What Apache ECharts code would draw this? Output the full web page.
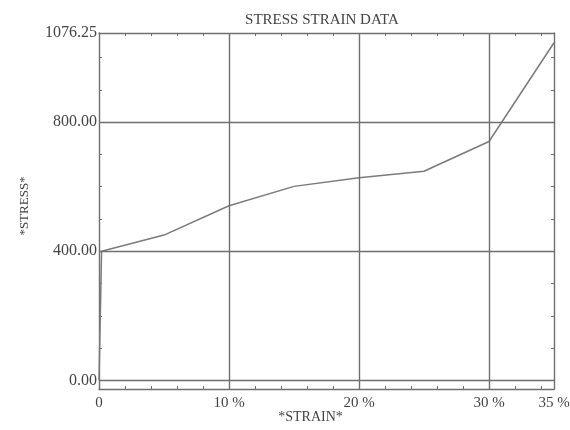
<!DOCTYPE html>
<html>
<head>
<meta charset="utf-8">
<script src="https://cdn.jsdelivr.net/npm/echarts@6/dist/echarts.min.js"></script>
<style>html,body{margin:0;padding:0;background:#fff}#c{width:570px;height:430px}</style>
</head>
<body>
<div id="c"></div>
<script>
const strain = [0, 0.2, 5, 10, 15, 20, 25, 30, 35];
const stress = [0, 400, 450, 541, 601, 628, 648, 740, 1046];
const xLabelValues = [0, 10, 20, 30, 35];
const yLabelValues = [0, 400, 800, 1076.25];
const xTickValues = [2, 4, 6, 8, 12, 14, 16, 18, 22, 24, 26, 28, 32, 34];
const yTickValues = [100, 200, 300, 500, 600, 700, 900, 1000];
const xGridValues = [10, 20, 30];
const yGridValues = [0, 400, 800];

const FONT = '"Liberation Serif", "DejaVu Serif", serif';
const LINE = '#6f6f6f';

const chart = echarts.init(document.getElementById('c'));
const frameLine = { show: true, onZero: false, lineStyle: { color: LINE, width: 1.4 } };
const tickStyle = { show: true, inside: true, length: 3, customValues: null, lineStyle: { color: LINE, width: 1 } };

chart.setOption({
  backgroundColor: '#fff',
  animation: false,
  title: {
    text: 'STRESS STRAIN DATA',
    left: 317, top: 8, textAlign: 'center',
    textStyle: { fontFamily: FONT, fontSize: 15, fontWeight: 'normal', color: '#444' }
  },
  grid: { left: 99, right: 16, top: 33, bottom: 41, containLabel: false, outerBoundsMode: 'none' },
  xAxis: [
    {
      type: 'value', position: 'bottom', min: 0, max: 35,
      axisLine: frameLine,
      axisTick: Object.assign({}, tickStyle, { customValues: xTickValues }),
      axisLabel: {
        customValues: xLabelValues, margin: 7,
        fontFamily: FONT, fontSize: 15, color: '#444',
        formatter: v => v === 0 ? '0' : v + ' %'
      },
      splitLine: { show: false },
      name: '*STRAIN*', nameLocation: 'middle', nameGap: 21, nameMoveOverlap: false,
      nameTextStyle: { fontFamily: FONT, fontSize: 14, color: '#444', padding: [0, 32, 0, 0] }
    },
    {
      type: 'value', position: 'top', min: 0, max: 35,
      axisLine: frameLine,
      axisTick: Object.assign({}, tickStyle, { customValues: xTickValues }),
      axisLabel: { show: false },
      splitLine: { show: false }
    }
  ],
  yAxis: [
    {
      type: 'value', position: 'left', min: -26.9, max: 1076.25,
      axisLine: frameLine,
      axisTick: Object.assign({}, tickStyle, { customValues: yTickValues }),
      axisLabel: {
        customValues: yLabelValues, margin: 2,
        fontFamily: FONT, fontSize: 16, color: '#444',
        formatter: v => v.toFixed(2)
      },
      splitLine: { show: false },
      name: '*STRESS*', nameLocation: 'middle', nameGap: 68, nameRotate: 90, nameMoveOverlap: false,
      nameTextStyle: { fontFamily: FONT, fontSize: 13, color: '#444', padding: [0, 0, 0, 10] }
    },
    {
      type: 'value', position: 'right', min: -26.9, max: 1076.25,
      axisLine: frameLine,
      axisTick: Object.assign({}, tickStyle, { customValues: yTickValues }),
      axisLabel: { show: false },
      splitLine: { show: false }
    }
  ],
  series: [{
    type: 'line',
    xAxisIndex: 0, yAxisIndex: 0,
    data: strain.map((x, i) => [x, stress[i]]),
    showSymbol: false, symbol: 'none',
    lineStyle: { color: '#7a7a7a', width: 1.5 },
    markLine: {
      silent: true, symbol: ['none', 'none'],
      label: { show: false },
      lineStyle: { color: LINE, width: 1.4, type: 'solid' },
      data: xGridValues.map(v => ({ xAxis: v })).concat(yGridValues.map(v => ({ yAxis: v })))
    }
  }]
});
</script>
</body>
</html>
